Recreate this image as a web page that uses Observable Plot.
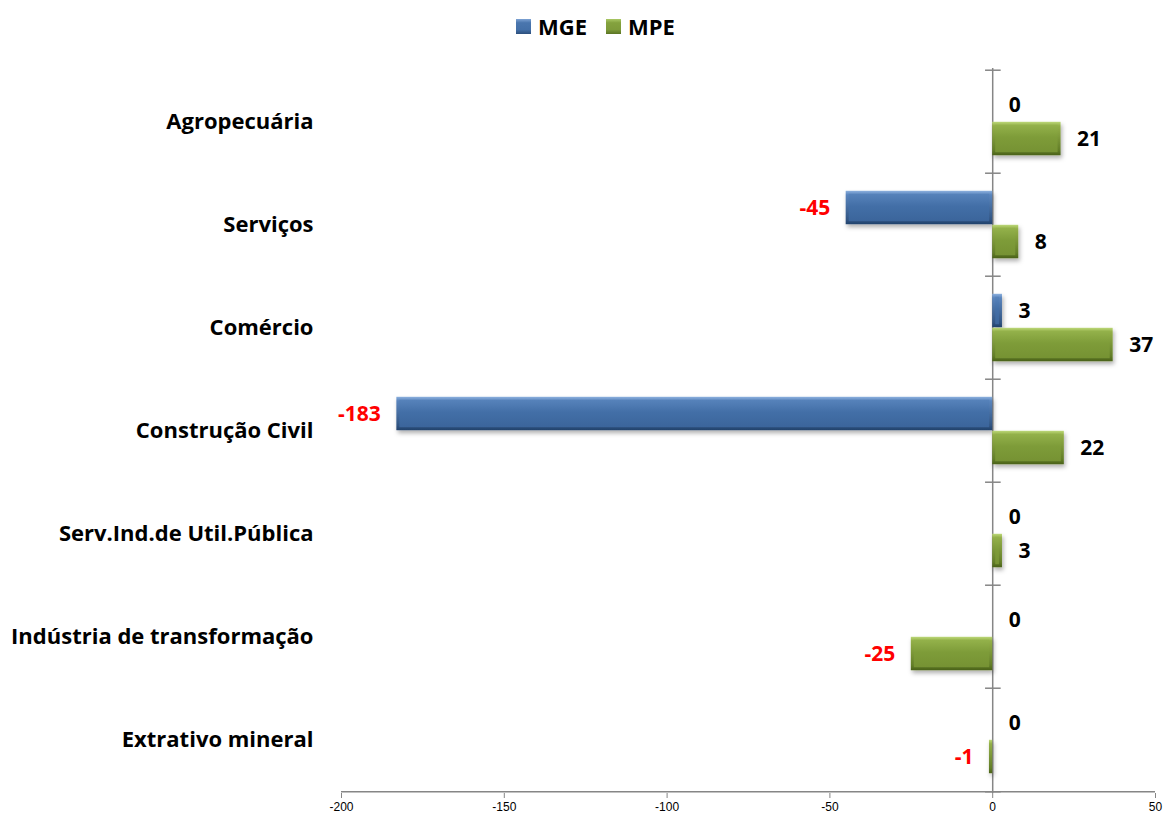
<!DOCTYPE html>
<html><head><meta charset="utf-8">
<script src="https://cdn.jsdelivr.net/npm/d3@7"></script>
<script src="https://cdn.jsdelivr.net/npm/@observablehq/plot@0.6"></script>
<style>
body{margin:0;background:#fff;width:1166px;height:818px;overflow:hidden;font-family:"Open Sans",Lato,sans-serif;}
#legend{height:50px;position:relative;}
#legend .wrap{position:absolute;left:516px;top:12px;display:flex;align-items:center;font-weight:700;font-size:22px;color:#000;line-height:28px;}
#legend .sw{width:15px;height:15px;margin-right:7px;box-sizing:border-box;}
#legend .lab{margin-right:19px;}
#chart svg{display:block;}
</style></head><body>
<div id="legend"><div class="wrap"></div></div>
<div id="chart"></div>
<script>
const categories = ["Agropecuária","Serviços","Comércio","Construção Civil","Serv.Ind.de Util.Pública","Indústria de transformação","Extrativo mineral"];
const mge = [0, -45, 3, -183, 0, 0, 0];
const mpe = [21, 8, 37, 22, 3, -25, -1];
const seriesNames = ["MGE", "MPE"];
const xTicks = [-200, -150, -100, -50, 0, 50];
const xDomain = [-200, 50];

const rows = categories.map((c, i) => ({cat: c, MGE: mge[i], MPE: mpe[i]}));

const W = 1166, H = 768, mT = 18, mB = 25, mL = 341, mR = 11;
const step = (H - mT - mB) / categories.length;
const half = step / 2, barH = 34;
const gray = "#868686";
const font = "'Open Sans', Lato, sans-serif";

// legend
const swatchBg = {
  MGE: "linear-gradient(#7ea3d4 0%, #4a76ae 25%, #4470a8 70%, #2c4e7c 100%)",
  MPE: "linear-gradient(#aac865 0%, #84a23e 25%, #7e9b3a 70%, #5a7423 100%)"
};
const wrap = document.querySelector("#legend .wrap");
seriesNames.forEach(s => {
  const sw = document.createElement("span"); sw.className = "sw"; sw.style.background = swatchBg[s];
  const lb = document.createElement("span"); lb.className = "lab"; lb.textContent = s;
  wrap.appendChild(sw); wrap.appendChild(lb);
});

function bars(key, top) {
  const insetTop = top ? half - barH : half;
  const insetBottom = top ? half : half - barH;
  return [
    Plot.barX(rows, {x: key, y: "cat", fill: `url(#g${key})`, insetTop, insetBottom}),
    Plot.barX(rows, {x: key, y: "cat", fill: `url(#i${key})`, insetTop: insetTop + 3, insetBottom: insetBottom + 3, insetLeft: 3, insetRight: 3})
  ];
}
function labels(key, dy) {
  const common = {x: key, y: "cat", text: d => String(d[key]), dy, fontSize: 21, fontWeight: 700, fontFamily: font};
  return [
    Plot.text(rows, {...common, filter: d => d[key] >= 0, textAnchor: "start", dx: 16, fill: "#000"}),
    Plot.text(rows, {...common, filter: d => d[key] < 0, textAnchor: "end", dx: -16, fill: "#ff0000"})
  ];
}

const last = categories[categories.length - 1];
const plot = Plot.plot({
  width: W, height: H,
  marginTop: mT, marginBottom: mB, marginLeft: mL, marginRight: mR,
  x: {domain: xDomain, axis: null},
  y: {domain: categories, type: "band", padding: 0, axis: null},
  style: {fontFamily: font, background: "#fff"},
  marks: [
    Plot.ruleX([0], {stroke: gray, strokeWidth: 1.5}),
    Plot.ruleY(rows, {y: "cat", x1: -2.2, x2: 2.6, dy: -half, stroke: gray, strokeWidth: 1.5}),
    Plot.ruleY([last], {y: d => d, x1: -2.2, x2: 2.6, dy: half, stroke: gray, strokeWidth: 1.5}),
    Plot.ruleY([last], {y: d => d, x1: xDomain[0], x2: xDomain[1], dy: half, stroke: gray, strokeWidth: 1.5}),
    Plot.axisX({ticks: xTicks, tickSize: 5, tickPadding: 4, tickFormat: d => String(d), stroke: gray, fill: "#000", fontSize: 12, fontFamily: "'Liberation Sans Narrow', 'Arial Narrow', sans-serif"}),
    ...bars("MGE", true),
    ...bars("MPE", false),
    ...labels("MGE", -17),
    ...labels("MPE", 17),
    Plot.text(categories, {y: d => d, text: d => d, frameAnchor: "left", textAnchor: "end", dx: -28, fontSize: 22, fontWeight: 700, fill: "#000", fontFamily: font})
  ]
});

const defs = `
<defs>
 <linearGradient id="gMGE" x1="0" y1="0" x2="0" y2="1">
  <stop offset="0" stop-color="#8cb0de"/><stop offset="0.12" stop-color="#5a85bd"/>
  <stop offset="0.85" stop-color="#325684"/><stop offset="1" stop-color="#22416b"/>
 </linearGradient>
 <linearGradient id="iMGE" x1="0" y1="0" x2="0" y2="1">
  <stop offset="0" stop-color="#5783bb"/><stop offset="0.45" stop-color="#436fa7"/><stop offset="1" stop-color="#3b659b"/>
 </linearGradient>
 <linearGradient id="gMPE" x1="0" y1="0" x2="0" y2="1">
  <stop offset="0" stop-color="#bcd878"/><stop offset="0.12" stop-color="#93af48"/>
  <stop offset="0.85" stop-color="#637e28"/><stop offset="1" stop-color="#4a6219"/>
 </linearGradient>
 <linearGradient id="iMPE" x1="0" y1="0" x2="0" y2="1">
  <stop offset="0" stop-color="#94b24b"/><stop offset="0.45" stop-color="#7e9c39"/><stop offset="1" stop-color="#769233"/>
 </linearGradient>
 <filter id="shadow" x="-10%" y="-30%" width="130%" height="190%">
  <feDropShadow dx="1.5" dy="3" stdDeviation="2" flood-color="#000" flood-opacity="0.3"/>
 </filter>
</defs>`;
const svg = plot.tagName.toLowerCase() === "svg" ? plot : plot.querySelector("svg");
svg.insertAdjacentHTML("afterbegin", defs);
const barGroups = svg.querySelectorAll('g[aria-label="bar"]');
barGroups.forEach((g, i) => { if (i % 2 === 0) g.setAttribute("filter", "url(#shadow)"); });
document.getElementById("chart").appendChild(plot);
</script>
</body></html>
